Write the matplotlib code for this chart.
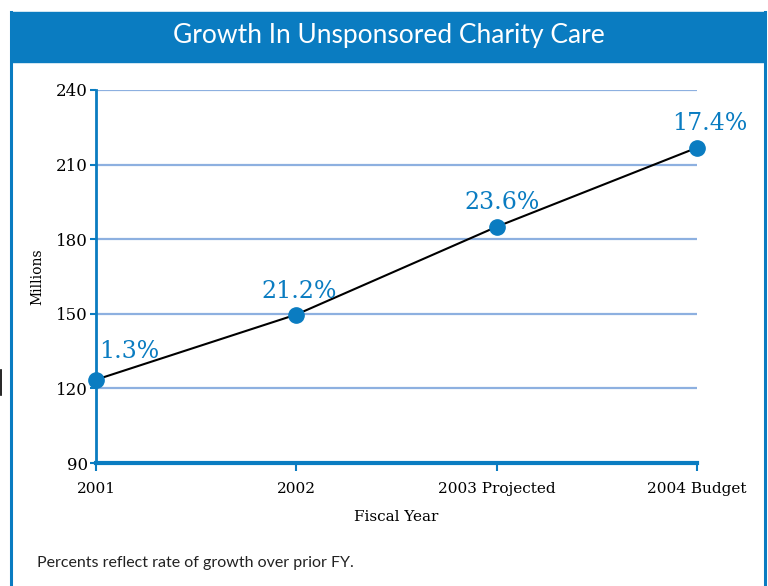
import matplotlib.pyplot as plt
from matplotlib.patches import Rectangle
from matplotlib.lines import Line2D

years = ["2001", "2002", "2003 Projected", "2004 Budget"]
millions = [123.5, 149.7, 185.0, 216.8]
growth = ["1.3%", "21.2%", "23.6%", "17.4%"]
yticks = [90, 120, 150, 180, 210, 240]

blue = "#0a7cc1"
grid_blue = "#8db0e0"
label_off = [(24, 12), (2, 8), (4, 9), (9, 9)]

fig = plt.figure(figsize=(7.68, 5.86), dpi=100)

# frame and header band
fig.add_artist(Rectangle((12 / 768, 1 - 62 / 586), 753 / 768, 50 / 586,
                         transform=fig.transFigure, color=blue, zorder=0))
fig.add_artist(Line2D([11 / 768, 11 / 768], [0, 1 - 12 / 586], color=blue, lw=2.2))
fig.add_artist(Line2D([765 / 768, 765 / 768], [0, 1 - 12 / 586], color=blue, lw=2.2))
fig.add_artist(Line2D([1 / 768, 1 / 768], [1 - 370 / 586, 1 - 395 / 586], color="black", lw=1.2))
fig.text(389 / 768, 1 - 36 / 586, "Growth In Unsponsored Charity Care", color="white",
         fontsize=19, family="Lato", ha="center", va="center")

ax = fig.add_axes([96 / 768, 1 - 463 / 586, 601 / 768, 373 / 586])
x = range(len(years))
ax.plot(x, millions, color="black", lw=1.5, zorder=3)
ax.plot(x, millions, "o", color=blue, ms=11, zorder=4, clip_on=False)
for i, (v, g) in enumerate(zip(millions, growth)):
    ax.annotate(g, (i, v), xytext=label_off[i], textcoords="offset points",
                ha="center", va="bottom", color=blue, fontsize=17, family="DejaVu Serif")

ax.set_xlim(0, 3)
ax.set_ylim(90, 240)
ax.set_xticks(list(x))
ax.set_xticklabels(years, family="DejaVu Serif", fontsize=11)
ax.set_yticks(yticks)
ax.set_yticklabels([str(t) for t in yticks], family="DejaVu Serif", fontsize=12)
for t in yticks[1:]:
    ax.axhline(t, color=grid_blue, lw=1.6, zorder=1)

for s in ["top", "right"]:
    ax.spines[s].set_visible(False)
ax.spines["left"].set_color(blue)
ax.spines["left"].set_linewidth(2)
ax.spines["bottom"].set_color(blue)
ax.spines["bottom"].set_linewidth(3)
ax.tick_params(axis="x", colors=blue, length=6, width=1.5, labelcolor="black", pad=8)
ax.tick_params(axis="y", colors=blue, length=4, width=1.5, labelcolor="black", pad=2)

ax.set_ylabel("Millions", family="DejaVu Serif", fontsize=10, labelpad=8)
ax.set_xlabel("Fiscal Year", family="DejaVu Serif", fontsize=11, labelpad=10)

fig.text(37 / 768, 1 - 563 / 586, "Percents reflect rate of growth over prior FY.",
         fontsize=11.5, family="Lato", color="#222222", va="center")

fig.savefig("out.png", dpi=100)
